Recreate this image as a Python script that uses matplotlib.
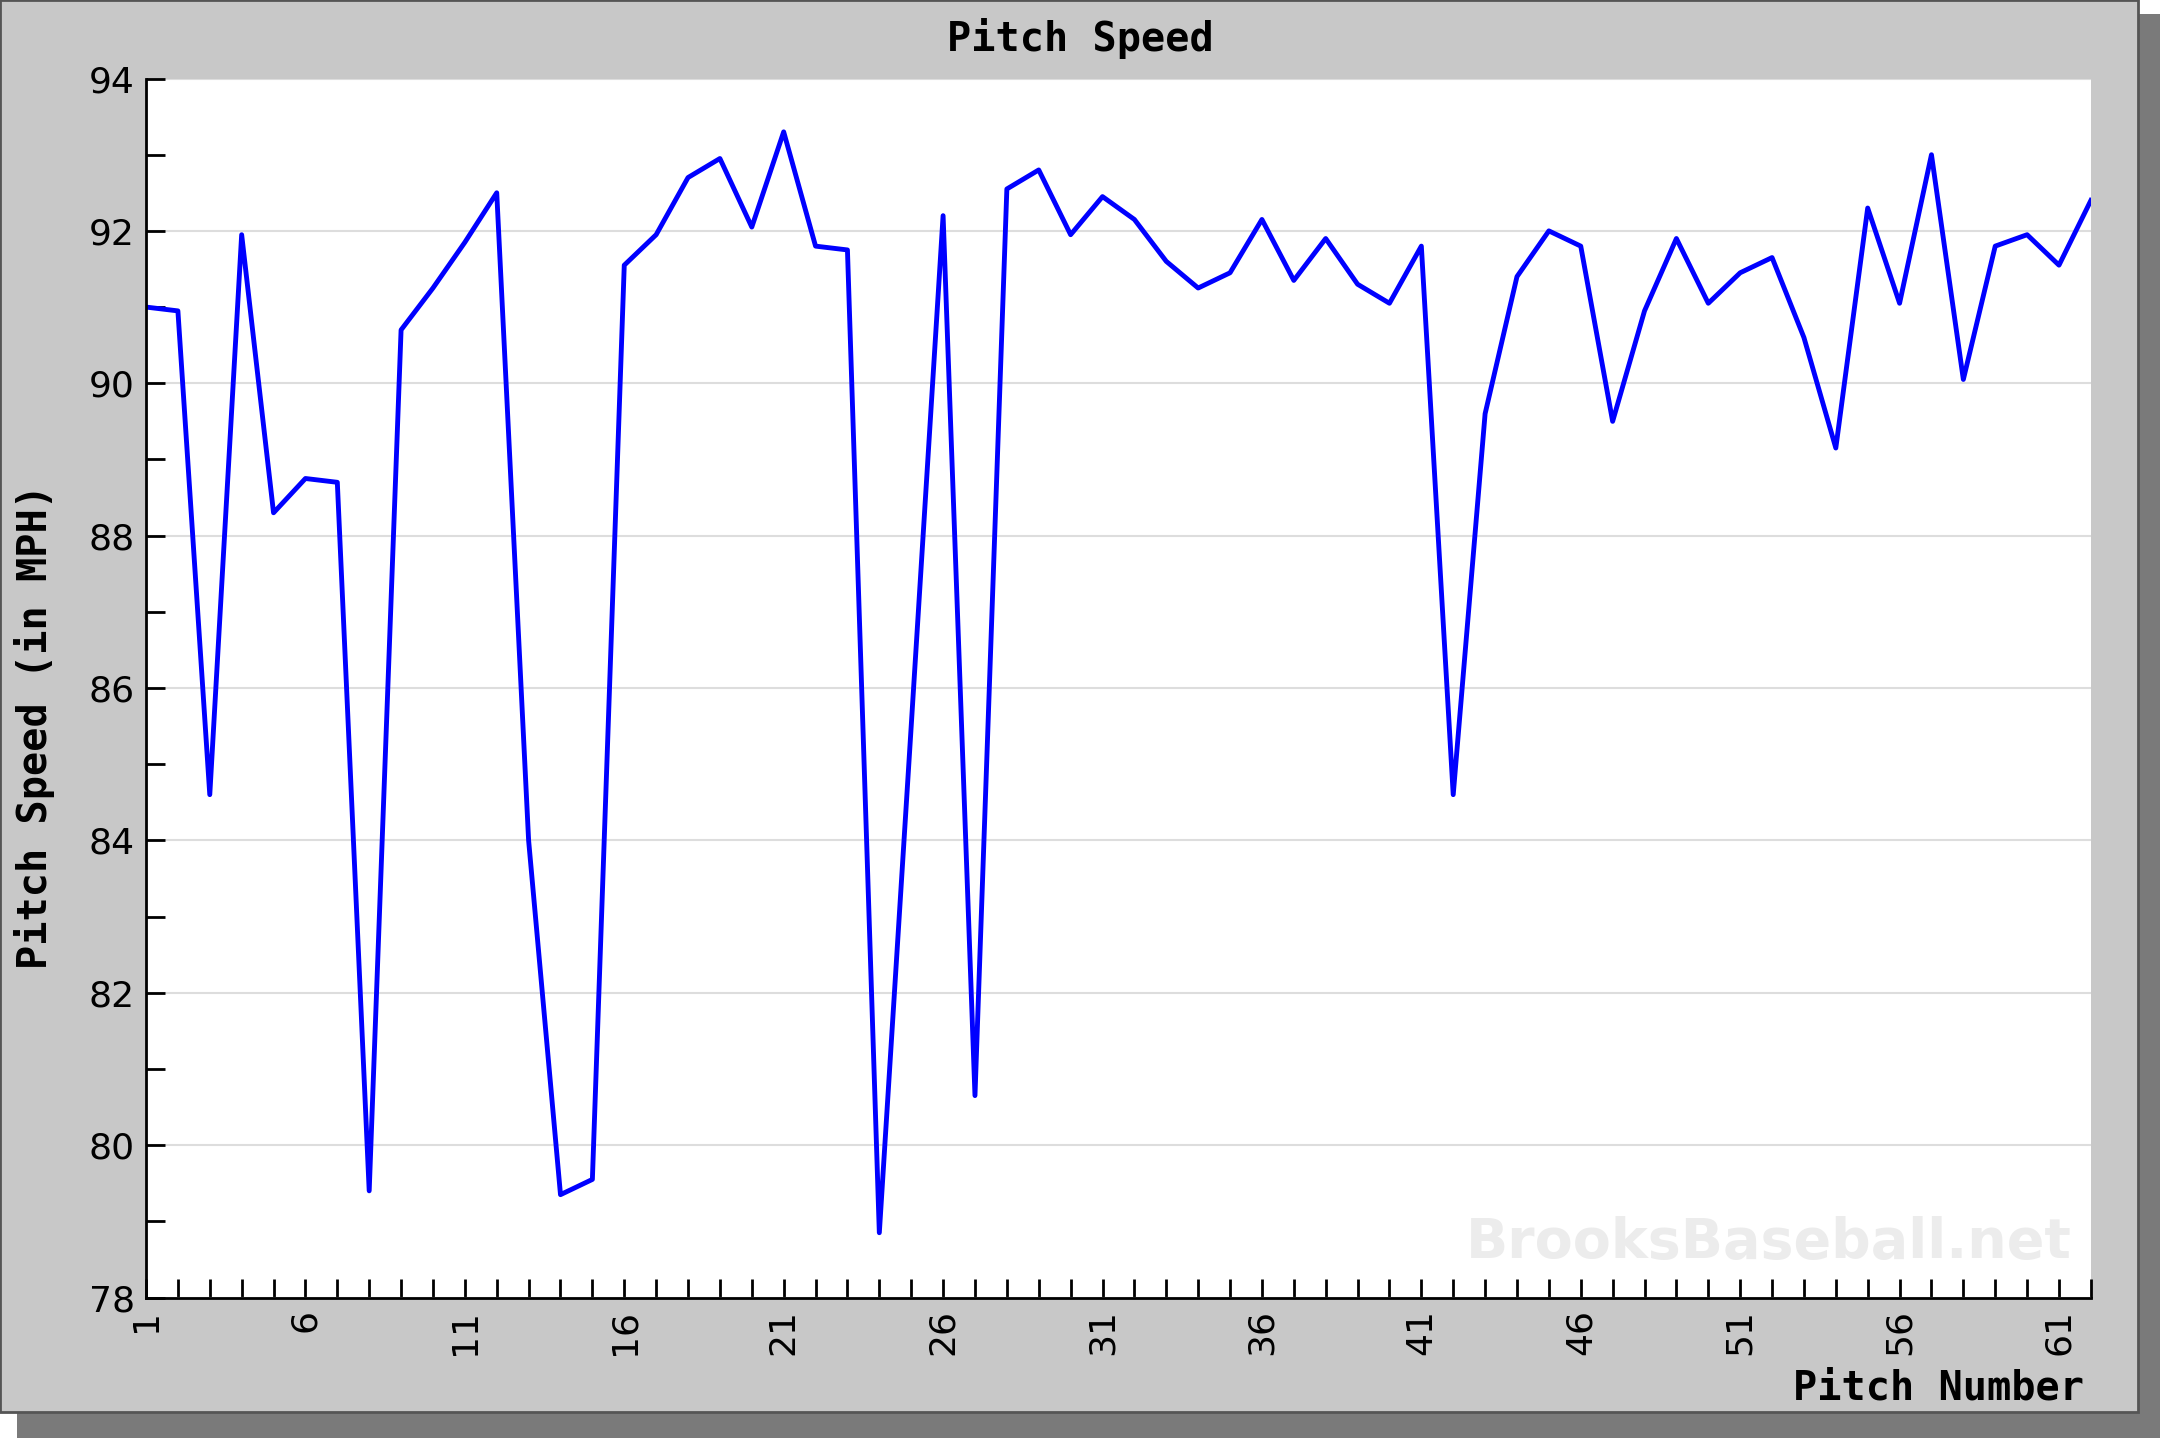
import matplotlib
matplotlib.use("Agg")
import matplotlib.pyplot as plt
from matplotlib.patches import Rectangle
from matplotlib.ticker import MultipleLocator

pitch_numbers = list(range(1, 63))
speeds = [91.0, 90.95, 84.6, 91.95, 88.3, 88.75, 88.7, 79.4, 90.7, 91.25,
          91.85, 92.5, 84.0, 79.35, 79.55, 91.55, 91.95, 92.7, 92.95, 92.05,
          93.3, 91.8, 91.75, 78.85, 85.5, 92.2, 80.65, 92.55, 92.8, 91.95,
          92.45, 92.15, 91.6, 91.25, 91.45, 92.15, 91.35, 91.9, 91.3, 91.05,
          91.8, 84.6, 89.6, 91.4, 92.0, 91.8, 89.5, 90.95, 91.9, 91.05,
          91.45, 91.65, 90.6, 89.15, 92.3, 91.05, 93.0, 90.05, 91.8, 91.95,
          91.55, 92.4]
xtick_labels = [1, 6, 11, 16, 21, 26, 31, 36, 41, 46, 51, 56, 61]
ytick_labels = [78, 80, 82, 84, 86, 88, 90, 92, 94]

font = "DejaVu Sans Mono"
fig = plt.figure(figsize=(21.6, 14.38), dpi=100)
fig.patch.set_facecolor("white")
fig.add_artist(Rectangle((0.0, 0.018), 0.99, 0.982, transform=fig.transFigure,
                         facecolor="#c8c8c8", edgecolor="#555555", lw=2, zorder=-1))
fig.add_artist(Rectangle((0.99, 0.0), 0.01, 0.99, transform=fig.transFigure,
                         facecolor="#7a7a7a", edgecolor="none", zorder=-2))
fig.add_artist(Rectangle((0.008, 0.0), 0.992, 0.018, transform=fig.transFigure,
                         facecolor="#7a7a7a", edgecolor="none", zorder=-2))

ax = fig.add_axes([0.0676, 0.0977, 0.9004, 0.8477])
ax.set_facecolor("white")
ax.plot(pitch_numbers, speeds, color="#0000ff", lw=3.5)
ax.set_xlim(1, 62)
ax.set_ylim(78, 94)
ax.set_xticks(xtick_labels)
ax.set_xticklabels([str(v) for v in xtick_labels], rotation=90, fontsize=26, family="DejaVu Sans")
ax.xaxis.set_minor_locator(MultipleLocator(1))
ax.set_yticks(ytick_labels)
ax.set_yticklabels([str(v) for v in ytick_labels], fontsize=26, family="DejaVu Sans")
ax.yaxis.set_minor_locator(MultipleLocator(1))
ax.tick_params(which="both", direction="in", color="black", width=2)
ax.tick_params(which="major", length=14, pad=8)
ax.tick_params(which="minor", length=14)
ax.grid(axis="y", which="major", color="#dddddd", lw=1.5)
for s in ["top", "right"]:
    ax.spines[s].set_visible(False)
for s in ["left", "bottom"]:
    ax.spines[s].set_linewidth(2)

fig.text(0.5, 0.973, "Pitch Speed", ha="center", va="center", fontsize=29,
         family=font, fontweight="bold")
fig.text(0.016, 0.495, "Pitch Speed (in MPH)", rotation=90, ha="center", va="center",
         fontsize=29, family=font, fontweight="bold")
fig.text(0.965, 0.035, "Pitch Number", ha="right", va="center", fontsize=29,
         family=font, fontweight="bold")
ax.text(0.99, 0.045, "BrooksBaseball.net", transform=ax.transAxes, ha="right",
        va="center", fontsize=40, family="DejaVu Sans", fontweight="bold",
        color="#ececec")

fig.savefig("out.png", dpi=100)
